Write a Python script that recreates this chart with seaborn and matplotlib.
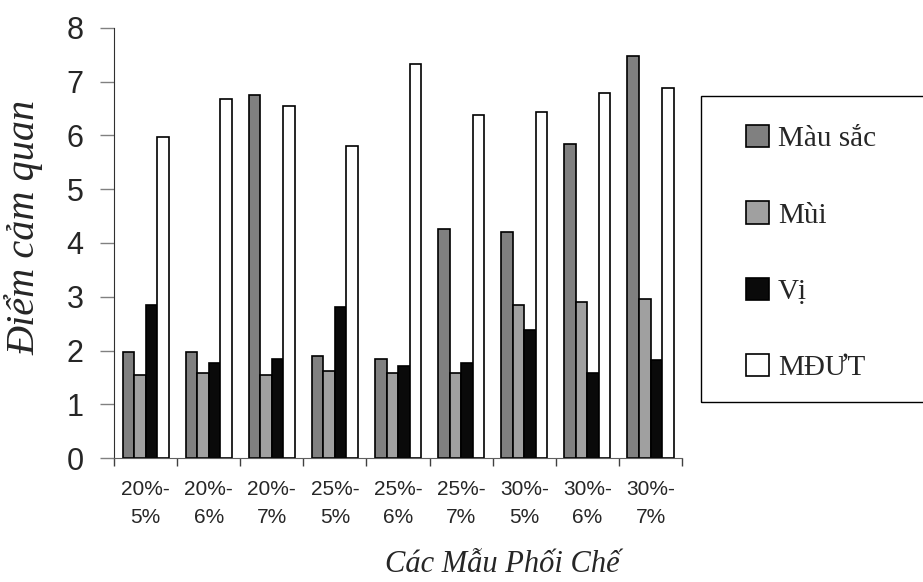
import numpy as np
import pandas as pd
import matplotlib
matplotlib.use('Agg')
from matplotlib import pyplot as plt
from matplotlib.patches import Rectangle
import seaborn as sns


# số liệu
mau = ['20%-\n5%', '20%-\n6%', '20%-\n7%', '25%-\n5%', '25%-\n6%',
       '25%-\n7%', '30%-\n5%', '30%-\n6%', '30%-\n7%']
mau_sac = [1.98, 1.98, 6.76, 1.90, 1.85, 4.26, 4.20, 5.84, 7.48]
mui = [1.55, 1.59, 1.55, 1.62, 1.59, 1.59, 2.84, 2.90, 2.95]
vi = [2.85, 1.77, 1.85, 2.81, 1.71, 1.77, 2.39, 1.59, 1.82]
mdut = [5.97, 6.68, 6.55, 5.81, 7.33, 6.38, 6.43, 6.79, 6.88]

tieu_chi = ['Màu sắc', 'Mùi', 'Vị', 'MĐƯT']
mau_cot = {'Màu sắc': '#808080', 'Mùi': '#a0a0a0', 'Vị': '#0a0a0a', 'MĐƯT': '#ffffff'}

df = pd.DataFrame({
    'Mẫu': mau * 4,
    'Tiêu chí': [t for t in tieu_chi for _ in mau],
    'Điểm': mau_sac + mui + vi + mdut,
})

sns.set_style('ticks')
plt.rcParams['font.family'] = ['Liberation Sans', 'DejaVu Sans']
serif = ['Liberation Serif', 'DejaVu Serif']

fig = plt.figure(figsize=(9.23, 5.82), dpi=100)
ax = fig.add_axes([0.1235, 0.213, 0.6155, 0.739])

sns.barplot(data=df, x='Mẫu', y='Điểm', hue='Tiêu chí', hue_order=tieu_chi,
            palette=mau_cot, saturation=1, width=0.73,
            edgecolor='black', linewidth=1.2, ax=ax)

h, l = ax.get_legend_handles_labels()
ax.get_legend().remove()

ax.set_xlim(-0.5, 8.5)
ax.set_ylim(0, 8)
ax.set_yticks(range(0, 9))
ax.set_xticks(np.arange(-0.5, 9, 1), minor=True)

for s in ['top', 'right']:
    ax.spines[s].set_visible(False)
ax.spines['left'].set_color('#303030')
ax.spines['bottom'].set_color('#606060')

ax.tick_params(axis='y', length=10, width=1, color='#808080', pad=12, labelsize=22)
ax.tick_params(axis='x', which='major', length=0, pad=16, labelsize=15)
ax.tick_params(axis='x', which='minor', length=6, width=1, color='#404040')
for t in ax.get_xticklabels():
    t.set_linespacing(1.58)

ax.set_ylabel('Điểm cảm quan', family=serif, style='italic', fontsize=29)
ax.set_xlabel('Các Mẫu Phối Chế', family=serif, style='italic', fontsize=22)
ax.yaxis.set_label_coords(-0.124, 0.537)
ax.xaxis.set_label_coords(0.683, -0.214)

# chú thích
fig.legend(h, l, loc='upper left', bbox_to_anchor=(0.808, 0.785),
           frameon=False, borderpad=0, borderaxespad=0,
           handlelength=0.8, handleheight=0.8, handletextpad=0.3,
           labelspacing=1.68, prop={'family': serif, 'size': 21})
fig.patches.append(Rectangle((0.760, 0.309), 0.3, 0.526, transform=fig.transFigure,
                             fill=False, edgecolor='black', linewidth=1))

plt.savefig('out.png', dpi=100)
